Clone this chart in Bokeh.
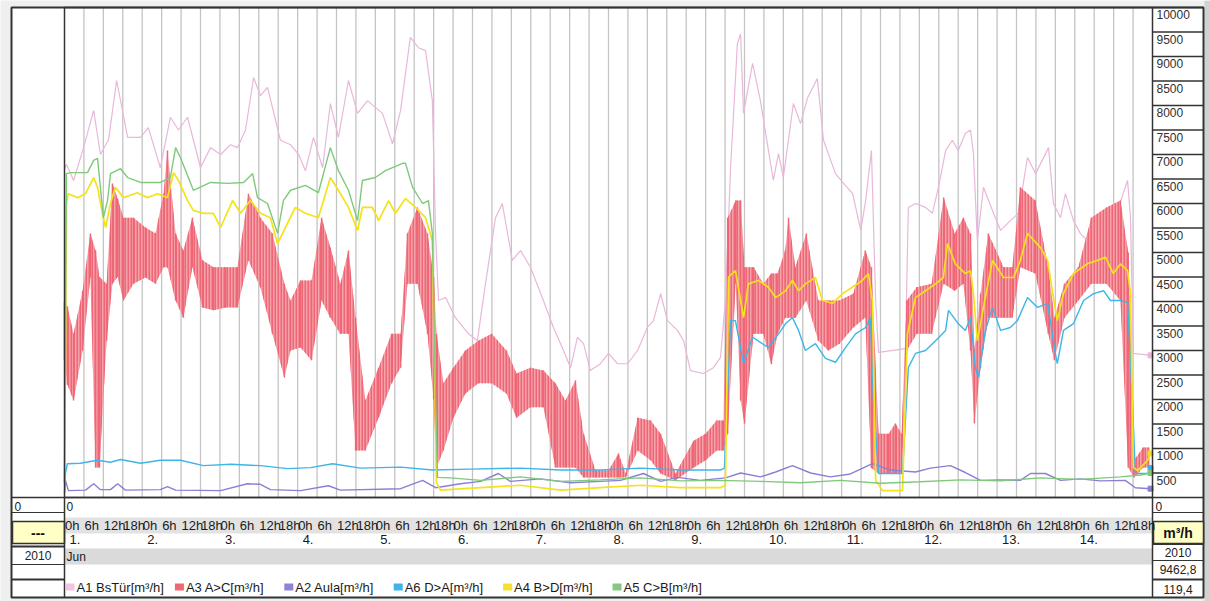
from bokeh.plotting import figure
from bokeh.models import Range1d
from bokeh.embed import file_html
from bokeh.resources import INLINE
from bokeh.core.properties import value

# ---------------- data (hours since 1 Jun 2010 0:00 ; m³/h) ----------------
pink_t = [0, 0.6, 2.8, 5.9, 9.0, 11.1, 13.6, 16.1, 17.6, 19.5,
          23.5, 25.9, 29.6, 32.7, 35.2, 38.0, 42.0, 45.1, 48.2, 51.3,
          53.4, 55.9, 58.4, 60.5, 62.7, 66.7, 69.8, 72.3, 74.4, 76.9,
          79.7, 82.1, 84.6, 87.7, 90.5, 93.6, 98.2, 101.3, 103.8, 106.8,
          109.3, 111.5, 113.6, 114.6, 115.5, 117.7, 120.7, 124.8, 127.5, 130.0,
          133.1, 135.2, 138.3, 140.8, 143.9, 147.9, 151.0, 154.1, 156.3, 158.4,
          160.3, 162.4, 165.5, 168.0, 170.8, 173.9, 177.0, 180.0, 181.9, 184.1,
          186.2, 189.3, 191.2, 193.3, 197.3, 200.4, 202.6, 204.1, 205.7, 207.8,
          208.8, 209.7, 212.5, 214.9, 217.4, 218.9, 220.5, 222.0, 225.1, 227.3,
          229.5, 232.5, 234.4, 238.1, 240.6, 243.4, 245.9, 247.4, 249.2, 250.5,
          251.4, 259.7, 260.6, 262.8, 265.9, 268.0, 269.9, 272.1, 274.2, 276.0,
          278.2, 279.8, 280.7, 281.9, 283.8, 286.9, 289.1, 292.1, 294.6, 297.4,
          299.9, 303.9, 305.4, 307.6, 309.1, 311.6, 313.7, 315.9, 319.0, 322.1,
          325.2, 328.3, 329.2, 330.1, 335.4]
pink_v = [6700, 6800, 6470, 7140, 7900, 7000, 7300, 8510, 8000, 7350,
          7350, 7550, 6730, 7760, 7500, 7760, 6730, 7140, 7000, 7200,
          7140, 7500, 8570, 8200, 8370, 7290, 7200, 7000, 6670, 7350,
          6730, 8040, 7350, 8510, 7840, 8100, 7840, 7220, 7900, 9390,
          9180, 9120, 8100, 5390, 4020, 4080, 3670, 3340, 3200, 4360,
          5710, 6000, 4840, 5040, 4700, 4020, 3470, 3000, 2650, 3270,
          3140, 2590, 2730, 2940, 2730, 2730, 3000, 3470, 3610, 4160,
          3610, 3410, 3200, 2590, 2530, 2650, 2860, 4020, 6730, 9260,
          9462, 7840, 8860, 8100, 7080, 6470, 7020, 6530, 8040, 7630,
          8160, 8550, 7290, 6610, 6410, 6200, 5450, 6060, 7080, 4020,
          2960, 3040, 5920, 6000, 5920, 5800, 6330, 7080, 7290, 7080,
          7430, 7500, 7020, 5240, 6330, 5800, 5450, 5650, 5800, 6940,
          6610, 7140, 6000, 5710, 6200, 5650, 5390, 5240, 5450, 5710,
          5860, 6470, 5710, 2940, 2900]

red_t = [0, 0.9, 2.8, 5.6, 8.0, 9.6, 10.8, 13.0, 14.8, 16.4,
         18.2, 21.3, 25.0, 28.1, 30.6, 31.8, 34.3, 36.7, 39.5, 42.6,
         46.0, 49.7, 53.4, 56.8, 60.5, 64.2, 67.9, 69.8, 72.9, 76.3,
         79.4, 82.1, 85.2, 87.7, 89.9, 92.9, 97.0, 101.0, 103.8, 105.9,
         109.0, 112.1, 114.0, 114.9, 117.0, 120.1, 123.8, 127.8, 131.9, 136.5,
         139.6, 143.9, 147.9, 151.6, 154.7, 157.8, 160.3, 164.0, 168.0, 171.1,
         173.3, 177.0, 181.0, 184.1, 188.7, 194.3, 198.0, 201.4, 203.5, 204.8,
         207.3, 208.8, 210.0, 212.8, 215.8, 218.3, 220.2, 222.6, 223.6, 225.7,
         229.1, 232.8, 235.9, 239.3, 243.6, 247.3, 249.2, 251.4, 254.5, 256.6,
         258.5, 260.1, 263.2, 267.8, 271.5, 274.9, 277.6, 279.8, 281.0, 282.9,
         285.3, 290.0, 292.7, 295.2, 299.8, 303.8, 305.7, 308.8, 313.1, 317.1,
         321.8, 326.1, 328.5, 330.3, 333.1, 334.8]
red_hi = [4000, 3900, 3340, 4220, 5390, 5040, 4500, 4360, 6410, 6100,
          5710, 5710, 5510, 5390, 6200, 7080, 5390, 5040, 5710, 4840,
          4700, 4700, 4700, 6200, 5710, 5390, 4360, 4020, 4430, 4430,
          5710, 5100, 4360, 5040, 3670, 1980, 2650, 3340, 3340, 5390,
          5920, 5390, 4500, 3340, 2330, 2650, 3000, 3200, 3340, 3000,
          2530, 2650, 2590, 2330, 1980, 2390, 1300, 550, 550, 900,
          490, 1630, 1570, 1300, 490, 1160, 1300, 1570, 1570, 5710,
          6060, 6060, 4700, 4700, 4360, 4570, 4570, 5040, 5710, 4700,
          5390, 4020, 4020, 4020, 4160, 5040, 4700, 1300, 1300, 1510,
          1300, 4020, 4290, 4360, 6120, 5390, 5710, 5390, 3000, 4160,
          5390, 4700, 4700, 6330, 6060, 4700, 3670, 4360, 4700, 5710,
          5920, 6060, 5000, 760, 1020, 1020]
red_lo = [2800, 2300, 1980, 3000, 4490, 610, 610, 3200, 4360, 4500,
          4020, 4360, 4490, 4360, 4700, 4700, 4020, 3670, 4700, 3880,
          3820, 3880, 3880, 4840, 4290, 3340, 2450, 3000, 3060, 2800,
          4020, 3670, 3340, 3340, 960, 960, 1630, 2330, 2650, 4360,
          4360, 3340, 2000, 610, 960, 1630, 2120, 2330, 2330, 2120,
          1630, 1840, 1840, 610, 610, 610, 410, 410, 410, 410,
          410, 960, 760, 490, 350, 610, 760, 960, 960, 1300,
          4360, 1980, 1510, 3340, 3340, 2720, 3340, 3670, 3670, 3670,
          4020, 3200, 3000, 3140, 3470, 3670, 600, 490, 490, 490,
          490, 3000, 3340, 3340, 4360, 4220, 4360, 3000, 1510, 2650,
          3670, 3670, 3670, 4700, 4570, 3340, 2800, 3670, 4020, 4360,
          4360, 4020, 610, 410, 610, 610]

purple_t = [0, 0.3, 1.2, 6.5, 9.0, 11.1, 14.2, 16.4, 18.8, 29.6,
            31.8, 34.3, 48.2, 56.5, 60.5, 63.6, 72.9, 81.5, 85.2, 103.8,
            110.6, 114.6, 122.3, 128.5, 134.0, 137.7, 147.0, 156.3, 165.5, 171.7,
            178.8, 184.1, 189.3, 196.4, 204.1, 208.8, 214.9, 219.6, 224.8, 230.4,
            236.5, 242.7, 249.5, 255.1, 262.8, 267.4, 273.6, 278.2, 282.9, 289.0,
            295.2, 298.3, 302.9, 307.6, 313.7, 319.9, 327.6, 330.7, 335.4]
purple_v = [100, 350, 140, 150, 280, 160, 160, 280, 150, 160,
            220, 150, 140, 280, 270, 160, 140, 240, 150, 180,
            350, 200, 280, 330, 490, 330, 380, 300, 330, 350,
            490, 330, 410, 350, 400, 500, 420, 520, 650, 500,
            420, 480, 690, 560, 520, 600, 650, 510, 350, 360,
            350, 490, 490, 350, 380, 340, 350, 200, 180]

blue_t = [0, 0.3, 0.9, 4.9, 10.2, 14.2, 17.3, 23.5, 29.6, 35.8,
          42.9, 51.3, 60.5, 68.9, 76.0, 82.8, 91.4, 103.8, 113.6, 125.4,
          140.8, 153.2, 165.5, 177.9, 190.2, 202.6, 203.8, 205.7, 207.2, 209.7,
          212.5, 215.5, 217.4, 220.5, 222.7, 224.8, 226.7, 228.8, 231.9, 235.0,
          238.1, 241.2, 244.3, 247.4, 248.9, 249.8, 251.4, 258.8, 260.6, 262.8,
          265.9, 269.0, 272.1, 273.0, 276.0, 278.2, 279.8, 281.3, 282.2, 284.4,
          286.6, 289.1, 292.1, 294.3, 297.4, 300.5, 303.6, 306.0, 306.6, 308.5,
          311.6, 314.7, 317.8, 320.9, 323.0, 326.1, 328.3, 329.8, 330.7, 334.4,
          335.4]
blue_v = [100, 500, 690, 700, 760, 720, 775, 700, 760, 760,
          650, 680, 650, 590, 610, 690, 600, 620, 560, 580,
          600, 560, 560, 600, 560, 560, 600, 3610, 3610, 2730,
          3270, 3140, 3060, 3340, 3550, 3670, 3410, 3000, 3140, 2840,
          2760, 3060, 3340, 3470, 3670, 1980, 490, 490, 2650, 2940,
          3000, 3200, 3410, 3820, 3550, 3410, 3670, 2650, 2450, 3410,
          3880, 3410, 3470, 3610, 4080, 3880, 3960, 2940, 2730, 3410,
          3550, 4020, 4160, 4220, 4020, 4020, 3980, 1980, 490, 490,
          600]

yellow_t = [0, 0.6, 1.2, 4.0, 6.5, 9.0, 10.2, 11.7, 12.7, 14.2,
            15.7, 18.2, 22.5, 25.6, 28.7, 31.8, 33.7, 35.2, 38.0, 39.8,
            42.9, 46.0, 48.2, 51.9, 54.4, 57.4, 60.5, 63.6, 65.8, 68.2,
            71.3, 74.4, 78.4, 82.1, 84.6, 87.7, 90.5, 92.0, 95.1, 97.0,
            100.1, 102.2, 105.3, 108.4, 111.5, 113.6, 114.9, 116.1, 128.5, 140.8,
            153.2, 165.5, 177.9, 190.2, 202.6, 204.1, 205.1, 207.2, 209.7, 211.2,
            214.3, 217.4, 219.6, 222.7, 224.8, 226.7, 228.8, 231.9, 234.1, 237.2,
            240.3, 243.3, 246.4, 248.3, 249.5, 250.5, 252.6, 258.8, 260.3, 262.8,
            265.9, 269.0, 271.4, 272.7, 275.1, 278.2, 279.8, 280.7, 281.9, 283.8,
            286.6, 290.0, 293.1, 295.2, 297.4, 301.4, 303.6, 305.4, 306.6, 308.5,
            311.6, 315.9, 319.0, 321.5, 323.9, 326.1, 328.3, 329.2, 330.1, 331.4,
            334.5, 335.4]
yellow_v = [300, 6000, 6200, 6120, 6200, 6530, 6330, 5800, 5510, 6000,
            6330, 6120, 6220, 6120, 6200, 6120, 6630, 6470, 6060, 5860,
            5800, 5800, 5510, 6060, 5800, 6060, 5800, 5710, 5180, 5510,
            5920, 5800, 5710, 6530, 6270, 5920, 5450, 5920, 5920, 5650,
            6060, 5800, 6100, 5920, 5710, 5240, 300, 150, 200, 250,
            150, 200, 250, 200, 200, 250, 4500, 4630, 3670, 4360,
            4430, 4290, 4080, 4220, 4430, 4220, 4360, 4490, 4020, 3960,
            4160, 4290, 4430, 4570, 4020, 350, 140, 140, 3340, 4080,
            4220, 4360, 4490, 5180, 4770, 4570, 4630, 4160, 3200, 3880,
            4840, 4490, 4490, 4840, 5390, 5100, 4840, 4080, 3610, 4160,
            4570, 4770, 4840, 4900, 4570, 4770, 4630, 4160, 610, 550,
            760, 900]

green_t = [0, 0.6, 1.9, 7.1, 9.0, 10.2, 11.1, 12.0, 13.3, 14.2,
           17.3, 19.5, 23.5, 29.6, 32.7, 34.3, 35.8, 39.8, 45.1, 50.3,
           55.3, 58.1, 59.6, 62.7, 65.8, 67.6, 69.8, 74.4, 78.4, 82.1,
           84.6, 87.7, 90.5, 92.0, 96.0, 99.1, 104.4, 105.3, 107.5, 110.6,
           112.4, 113.6, 114.6, 115.2, 119.2, 128.5, 140.8, 153.2, 165.5, 177.9,
           190.2, 202.6, 214.9, 227.3, 239.6, 252.0, 264.3, 276.7, 289.0, 301.4,
           313.7, 326.1, 332.3, 335.4]
green_v = [300, 6610, 6630, 6630, 6880, 6920, 6330, 5710, 6060, 6610,
           6710, 6530, 6430, 6430, 6530, 7140, 6940, 6270, 6430, 6410,
           6430, 6610, 6120, 6000, 5390, 6060, 6270, 6370, 6220, 7140,
           6670, 6270, 5650, 6470, 6530, 6670, 6820, 6820, 6330, 6000,
           6060, 5390, 1980, 410, 400, 350, 420, 330, 360, 400,
           340, 350, 330, 300, 350, 290, 320, 360, 340, 400,
           370, 420, 460, 500]

day_labels = ["1.", "2.", "3.", "4.", "5.", "6.", "7.", "8.", "9.", "10.",
              "11.", "12.", "13.", "14."]
hour_labels = ["0h", "6h", "12h", "18h"]
y_tick_values = [10000, 9500, 9000, 8500, 8000, 7500, 7000, 6500, 6000, 5500,
                 5000, 4500, 4000, 3500, 3000, 2500, 2000, 1500, 1000, 500]
y_tick_labels = ["10000", "9500", "9000", "8500", "8000", "7500", "7000", "6500",
                 "6000", "5500", "5000", "4500", "4000", "3500", "3000", "2500",
                 "2000", "1500", "1000", "500"]
legend_labels = ["A1 BsTür[m³/h]", "A3  A>C[m³/h]", "A2 Aula[m³/h]",
                 "A6  D>A[m³/h]", "A4  B>D[m³/h]", "A5 C>B[m³/h]"]
legend_colors = ["#f2c4e0", "#f06674", "#8f84d4", "#3fb4ea", "#f2e22c", "#86c882"]
month_label = "Jun"
year_label = "2010"
unit_label = "m³/h"
max_label = "9462,8"
min_label = "119,4"

# ---------------- layout constants (page pixels) ----------------
FONT = value("Liberation Sans")
W, H = 1210, 601
X0, Y0 = 0, 0
L, R, T, B = 64, 1152, 7, 497
OL, OR, OB = 11, 1203, 597
HOURS = 336
YMAX = 10000
kx = (R - L) / HOURS
ky = (B - T) / YMAX

p = figure(width=W, height=H,
           x_range=Range1d((X0 - L) / kx, (X0 + W - L) / kx),
           y_range=Range1d((B - (Y0 + H)) / ky, (B - Y0) / ky),
           x_axis_location=None, y_axis_location=None,
           output_backend="svg", toolbar_location=None, min_border=0)
p.grid.visible = False
p.outline_line_color = None
p.background_fill_color = "#efefef"
p.border_fill_color = "#efefef"
p.extra_x_ranges = {"px": Range1d(X0, X0 + W)}
p.extra_y_ranges = {"px": Range1d(Y0 + H, Y0)}
PX = dict(x_range_name="px", y_range_name="px")
DARK = "#333333"

# white sheet, grey strip on the right, bands
p.quad(left=[OL], right=[OR], top=[T], bottom=[OB], fill_color="white",
       line_color=None, **PX)
p.quad(left=[OR + 1], right=[X0 + W], top=[Y0], bottom=[Y0 + H],
       fill_color="#d2d2d2", line_color=None, **PX)
p.quad(left=[L, L], right=[R, R], top=[517, 548], bottom=[533, 564],
       fill_color=["#e2e2e2", "#dadada"], line_color=None, **PX)

# vertical 6-hour grid lines
grid_h = list(range(6, HOURS, 6))
p.segment(x0=grid_h, y0=[0] * len(grid_h), x1=grid_h, y1=[YMAX] * len(grid_h),
          line_color="#c4c4c4", line_width=1.3)

# series
p.line(pink_t, pink_v, line_color="#e9b7da", line_width=1.2)
p.varea(x=red_t, y1=red_lo, y2=red_hi, fill_color="#f5a3ab",
        hatch_pattern="vertical_line", hatch_color="#ef6776",
        hatch_scale=3, hatch_weight=2)
p.segment(x0=red_t, x1=red_t, y0=red_lo, y1=red_hi, line_color="#ef6776",
          line_width=1.5)
p.line(purple_t, purple_v, line_color="#8b7fd3", line_width=1.4)
p.line(blue_t, blue_v, line_color="#3db5e8", line_width=1.4)
p.line(yellow_t, yellow_v, line_color="#f3e21c", line_width=1.7)
p.line(green_t, green_v, line_color="#7fc97b", line_width=1.4)
p.scatter(x=[pink_t[-1], yellow_t[-1], blue_t[-1], green_t[-1], purple_t[-1]],
          y=[pink_v[-1], yellow_v[-1], blue_v[-1], green_v[-1], purple_v[-1]],
          marker="square", size=5,
          color=["#e9b7da", "#f3e21c", "#3db5e8", "#7fc97b", "#8b7fd3"])

# right-hand value scale
p.segment(x0=[R] * len(y_tick_values), x1=[OR] * len(y_tick_values),
          y0=y_tick_values, y1=y_tick_values, line_color=DARK, line_width=1.3,
          x_range_name="px")
p.text(x=[R + 4] * len(y_tick_values), y=[v - 7 / ky for v in y_tick_values],
       text=y_tick_labels, text_font=FONT, text_font_size="12px",
       text_color="#303030", text_baseline="middle", text_align="left",
       x_range_name="px")

# frames
p.quad(left=[OL, L], right=[OR, R], top=[T, T], bottom=[OB, B],
       fill_color=None, line_color=DARK, line_width=[2, 1.5], **PX)
p.quad(left=[OL + 1, R + 1], right=[L, OR], top=[521, 521], bottom=[543, 543],
       fill_color="#ffffc6", line_color=DARK, line_width=1.5, **PX)
hx0 = [OL, OL, OL, OL, OL, R, R, R, R]
hx1 = [OR, L, L, L, L, OR, OR, OR, OR]
hy = [B, 512, 546, 564, 579, 512, 544, 560, 579]
hw = [1.5, 1, 2, 1, 2, 1, 1, 1, 2]
p.segment(x0=hx0, x1=hx1, y0=hy, y1=hy, line_color=DARK, line_width=hw, **PX)
p.segment(x0=[L, R], x1=[L, R], y0=[B, B], y1=[OB, OB], line_color=DARK,
          line_width=1.5, **PX)

# table texts
p.text(x=[OL + 3, L + 2, R + 3], y=[506, 506, 506], text=["0", "0", "0"],
       text_font=FONT, text_font_size="12px", text_color="#222222",
       text_baseline="middle", text_align="left", **PX)
p.text(x=[(OL + L) / 2, (R + OR) / 2], y=[532, 532], text=["---", unit_label],
       text_font=FONT, text_font_size="14px", text_font_style="bold",
       text_color="#111111", text_baseline="middle", text_align="center", **PX)
p.text(x=[(OL + L) / 2, (R + OR) / 2, (R + OR) / 2, (R + OR) / 2],
       y=[555, 552, 569, 589],
       text=[year_label, year_label, max_label, min_label],
       text_font=FONT, text_font_size="12px", text_color="#222222",
       text_baseline="middle", text_align="center", **PX)
p.text(x=[L + 2], y=[556], text=[month_label], text_font=FONT,
       text_font_size="12px", text_color="#222222", text_baseline="middle",
       text_align="left", **PX)

# time labels
hx, hl = [], []
for d in range(len(day_labels)):
    for j, lab in enumerate(hour_labels):
        hx.append(d * 24 + j * 6 + 0.5 / kx)
        hl.append(lab)
p.text(x=hx, y=[525] * len(hx), text=hl, text_font=FONT, text_font_size="13px",
       text_color="#1a1a1a", text_baseline="middle", text_align="left",
       y_range_name="px")
p.text(x=[d * 24 + 5 / kx for d in range(len(day_labels))],
       y=[539] * len(day_labels), text=day_labels, text_font=FONT,
       text_font_size="13px", text_color="#1a1a1a", text_baseline="middle",
       text_align="left", y_range_name="px")

# legend
slot = 109.4
sx = [L + 1 + i * slot for i in range(len(legend_labels))]
p.quad(left=sx, right=[s + 9 for s in sx], top=[583] * len(sx),
       bottom=[590] * len(sx), fill_color=legend_colors, line_color=None, **PX)
p.text(x=[s + 11 for s in sx], y=[586.5] * len(sx), text=legend_labels,
       text_font=FONT, text_font_size="13px", text_color="#1a1a1a",
       text_baseline="middle", text_align="left", **PX)

open("out.html", "w").write(file_html(p, INLINE))
